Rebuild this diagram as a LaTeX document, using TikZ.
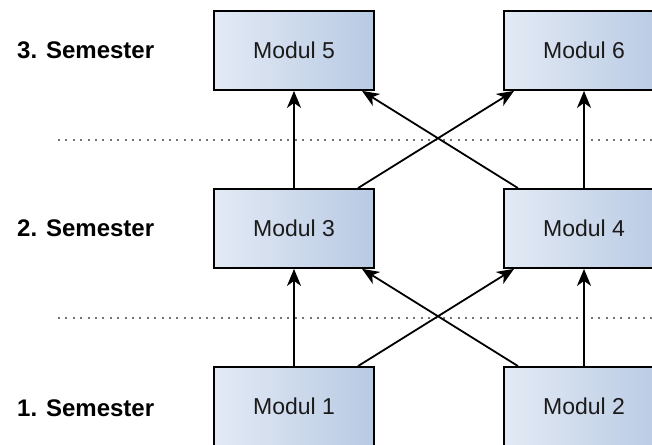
\documentclass[tikz,border=0pt]{standalone}
\usepackage{fontspec}
\setmainfont{Liberation Sans}
\usetikzlibrary{arrows.meta}
\definecolor{boxleft}{HTML}{E3EAF5}
\definecolor{boxright}{HTML}{B8CAE3}
\definecolor{textdark}{HTML}{1A1A1A}
\tikzset{
  modbox/.style={draw=black, line width=1.8pt, minimum width=160pt, minimum height=79pt,
    inner sep=0pt, left color=boxleft, right color=boxright,
    font=\fontsize{23}{26}\selectfont, text=textdark},
  semlabel/.style={anchor=west, inner sep=0pt, font=\fontsize{24}{27}\selectfont\bfseries},
  flow/.style={line width=1.8pt, -{Stealth[length=17pt,width=14pt,inset=5pt]}},
  divider/.style={line width=2pt, black!55, dash pattern=on 2pt off 5.4pt}
}
\begin{document}
\begin{tikzpicture}[x=1pt, y=-1pt]
  \useasboundingbox (0,0) rectangle (652,444);
  \begin{scope}
    \clip (0,0) rectangle (652,444);
    % semester dividers
    \coordinate (d1a) at (58,139.5);
    \coordinate (d1b) at (652,139.5);
    \coordinate (d2a) at (58,317.5);
    \coordinate (d2b) at (652,317.5);
    \draw[divider] (d1a) -- (d1b);
    \draw[divider] (d2a) -- (d2b);
    % modules
    \node[modbox] (m5) at (294,50.5) {Modul 5};
    \node[modbox] (m6) at (584,50.5) {Modul 6};
    \node[modbox] (m3) at (294,228.5) {Modul 3};
    \node[modbox] (m4) at (584,228.5) {Modul 4};
    \node[modbox] (m1) at (294,406.5) {Modul 1};
    \node[modbox] (m2) at (584,406.5) {Modul 2};
    % prerequisites
    \draw[flow] (m1.north) -- (m3.south);
    \draw[flow] (m2.north) -- (m4.south);
    \draw[flow] (m3.north) -- (m5.south);
    \draw[flow] (m4.north) -- (m6.south);
    \draw[flow] ([xshift=64pt]m1.north) -- ([xshift=-70pt]m4.south);
    \draw[flow] ([xshift=-66pt]m2.north) -- ([xshift=68pt]m3.south);
    \draw[flow] ([xshift=64pt]m3.north) -- ([xshift=-70pt]m6.south);
    \draw[flow] ([xshift=-66pt]m4.north) -- ([xshift=68pt]m5.south);
  \end{scope}
  % semester labels
  \node[semlabel] (s3) at (17,50) {3. Semester};
  \node[semlabel] (s2) at (17,228) {2. Semester};
  \node[semlabel] (s1) at (17,408) {1. Semester};
\end{tikzpicture}
\end{document}
